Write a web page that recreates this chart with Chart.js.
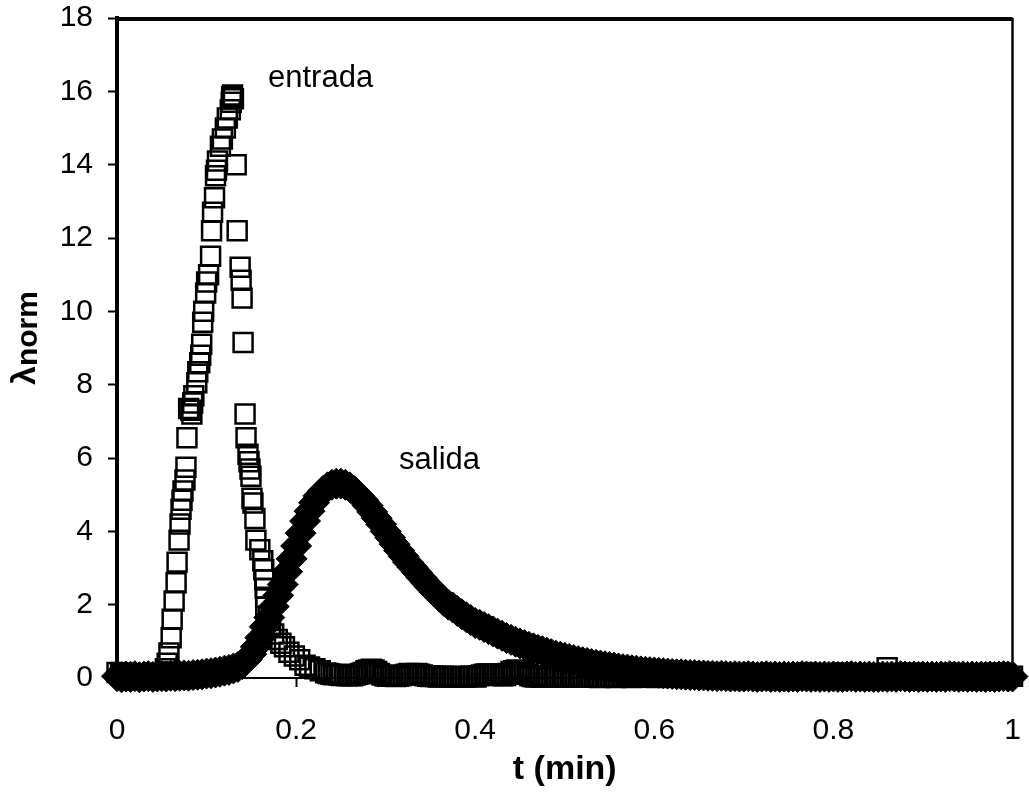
<!DOCTYPE html>
<html>
<head>
<meta charset="utf-8">
<script src="https://cdn.jsdelivr.net/npm/chart.js@4.4.1/dist/chart.umd.min.js"></script>
<style>
  html, body { margin: 0; padding: 0; background: #fff; }
  #wrap { width: 1029px; height: 800px; }
</style>
</head>
<body>
<div id="wrap"><canvas id="chart"></canvas></div>
<script>
// entrada (squares) - time in min, normalised signal
const entradaT = [
  0, 0.004, 0.008, 0.012, 0.016, 0.02, 0.024, 0.028, 0.032, 0.036,
  0.04, 0.044, 0.048, 0.051,
  // rise
  0.054, 0.056, 0.058, 0.0605, 0.0616, 0.0638, 0.066, 0.0671, 0.0693, 0.0704,
  0.0715, 0.0726, 0.0737, 0.0759, 0.077, 0.0781, 0.08, 0.0825, 0.0836, 0.0845,
  0.0858, 0.0891, 0.0902, 0.0924, 0.0935, 0.0946, 0.0957, 0.0968, 0.099, 0.1001,
  0.1023, 0.1045, 0.1056, 0.1067, 0.1089, 0.11, 0.1111, 0.1122, 0.1155, 0.1177,
  0.121, 0.1232, 0.1265, 0.1276, 0.128, 0.129, 0.13,
  // fall
  0.1331, 0.1342, 0.1375, 0.1386, 0.1397, 0.1408, 0.143, 0.1441, 0.1463, 0.1474,
  0.1485, 0.1496, 0.1507, 0.1518, 0.154, 0.1551, 0.1595, 0.1628, 0.1639, 0.165,
  0.1655, 0.166, 0.1661,
  // tail
  0.169, 0.1716, 0.175, 0.179, 0.183, 0.187, 0.192, 0.198, 0.204, 0.21,
  0.215, 0.221, 0.227,
  // baseline
  0.233, 0.236, 0.239, 0.242, 0.245, 0.248, 0.251, 0.254, 0.257, 0.26,
  0.263, 0.266, 0.269, 0.272, 0.275, 0.278, 0.281, 0.284, 0.287, 0.29,
  0.293, 0.296, 0.299, 0.302, 0.305, 0.308, 0.311, 0.314, 0.317, 0.32,
  0.323, 0.326, 0.329, 0.332, 0.335, 0.338, 0.341, 0.344, 0.347, 0.35,
  0.353, 0.356, 0.359, 0.362, 0.365, 0.368, 0.371, 0.374, 0.377, 0.38,
  0.383, 0.386, 0.389, 0.392, 0.395, 0.398, 0.401, 0.404, 0.407, 0.41,
  0.413, 0.416, 0.419, 0.422, 0.425, 0.428, 0.431, 0.434, 0.437, 0.44,
  0.443, 0.446, 0.449, 0.452, 0.455, 0.458, 0.461, 0.464, 0.467, 0.47,
  0.473, 0.476, 0.479, 0.482, 0.485, 0.488, 0.491, 0.494, 0.497, 0.5,
  0.503, 0.506, 0.509, 0.512, 0.515, 0.518, 0.521, 0.524, 0.527, 0.53,
  0.533, 0.536, 0.539, 0.542, 0.545, 0.548, 0.551, 0.554, 0.557, 0.56,
  0.563, 0.566, 0.569, 0.572, 0.575, 0.578, 0.581, 0.584, 0.587, 0.59,
  0.593, 0.596, 0.599, 0.602, 0.605, 0.608, 0.611, 0.614, 0.617, 0.62,
  0.63, 0.64, 0.65, 0.66, 0.67, 0.68, 0.69, 0.7, 0.71, 0.72,
  0.73, 0.74, 0.75, 0.76, 0.77, 0.78, 0.79, 0.8, 0.81, 0.82,
  0.83, 0.84, 0.85, 0.86, 0.87, 0.88, 0.89, 0.9, 0.91, 0.92,
  0.93, 0.94, 0.95, 0.96, 0.97, 0.98, 0.99, 1
];
const entradaY = [
  0.15, 0.12, 0.14, 0.08, 0.05, 0.06, 0.04, 0.07, 0.03, 0.05,
  0.04, 0.06, 0.05, 0.12,
  0.25, 0.4, 0.68, 1.1, 1.6, 2.1, 2.6, 3.16, 3.76, 4.2,
  4.6, 4.85, 5.1, 5.4, 5.75, 6.55, 7.35, 7.3, 7.2, 7.5,
  7.7, 8.05, 8.35, 8.6, 8.8, 9.1, 9.7, 10.0, 10.5, 10.8,
  11.0, 11.5, 12.2, 12.7, 13.1, 13.7, 13.85, 14.1, 14.5, 14.7,
  15.0, 15.27, 15.5, 15.7, 15.85, 15.9, 15.8,
  14.0, 12.2, 11.2, 10.85, 10.36, 9.15, 7.2, 6.55, 6.1, 5.9,
  5.7, 5.5, 4.9, 4.77, 4.35, 3.76, 3.5, 3.2, 2.95, 2.67,
  2.45, 2.2, 1.94,
  1.65, 1.4, 1.2, 1.05, 0.95, 0.85, 0.7, 0.6, 0.5, 0.35,
  0.3, 0.25, 0.2,
  0.14, 0.12, 0.1, 0.09, 0.1, 0.08, 0.07, 0.08, 0.06, 0.07,
  0.06, 0.08, 0.1, 0.12, 0.15, 0.2, 0.22, 0.24, 0.22, 0.18,
  0.12, 0.08, 0.06, 0.05, 0.07, 0.06, 0.04, 0.05, 0.06, 0.08,
  0.1, 0.12, 0.1, 0.11, 0.12, 0.1, 0.08, 0.06, 0.05, 0.04,
  0.05, 0.04, 0.03, 0.04, 0.05, 0.04, 0.03, 0.04, 0.03, 0.02,
  0.03, 0.04, 0.03, 0.04, 0.05, 0.04, 0.03, 0.06, 0.08, 0.1,
  0.11, 0.1, 0.09, 0.1, 0.08, 0.07, 0.06, 0.07, 0.12, 0.18,
  0.2, 0.22, 0.2, 0.18, 0.15, 0.1, 0.06, 0.04, 0.03, 0.04,
  0.03, 0.02, 0.03, 0.04, 0.03, 0.02, 0.03, 0.02, 0.03, 0.04,
  0.03, 0.02, 0.03, 0.02, 0.03, 0.04, 0.03, 0.02, 0.03, 0.02,
  0.03, 0.02, 0.01, 0.02, 0.03, 0.02, 0.03, 0.02, 0.01, 0.02,
  0.03, 0.02, 0.03, 0.02, 0.01, 0.02, 0.03, 0.02, 0.03, 0.02,
  0.02, 0.03, 0.02, 0.01, 0.02, 0.03, 0.02, 0.03, 0.02, 0.03,
  0.02, 0.03, 0.02, 0.04, 0.02, 0.01, 0.03, 0.02, 0.03, 0.02,
  0.04, 0.02, 0.03, 0.05, 0.14, 0.04, 0.03, 0.05, 0.14, 0.04,
  0.02, 0.03, 0.05, 0.28, 0.04, 0.03, 0.14, 0.05, 0.03, 0.04,
  0.12, 0.04, 0.03, 0.02, 0.04, 0.14, 0.04, 0.05
];

// salida (diamonds)
const salidaT = [
  0, 0.005, 0.01, 0.015, 0.02, 0.025, 0.03, 0.035, 0.04, 0.045,
  0.05, 0.055, 0.06, 0.065, 0.07, 0.075, 0.08, 0.085, 0.09, 0.095,
  0.1, 0.105, 0.11, 0.115, 0.12, 0.125, 0.13, 0.135, 0.14, 0.145,
  0.15, 0.155, 0.16, 0.165, 0.17, 0.175, 0.18, 0.185, 0.19, 0.195,
  0.2, 0.205, 0.21, 0.215, 0.22, 0.225, 0.23, 0.235, 0.24, 0.245,
  0.25, 0.255, 0.26, 0.265, 0.27, 0.275, 0.28, 0.285, 0.29, 0.295,
  0.3, 0.305, 0.31, 0.315, 0.32, 0.325, 0.33, 0.335, 0.34, 0.345,
  0.35, 0.355, 0.36, 0.365, 0.37, 0.375, 0.38, 0.385, 0.39, 0.395,
  0.4, 0.405, 0.41, 0.415, 0.42, 0.425, 0.43, 0.435, 0.44, 0.445,
  0.45, 0.455, 0.46, 0.465, 0.47, 0.475, 0.48, 0.485, 0.49, 0.495,
  0.5, 0.505, 0.51, 0.515, 0.52, 0.525, 0.53, 0.535, 0.54, 0.545,
  0.55, 0.555, 0.56, 0.565, 0.57, 0.575, 0.58, 0.585, 0.59, 0.595,
  0.6, 0.605, 0.61, 0.615, 0.62, 0.625, 0.63, 0.635, 0.64, 0.645,
  0.65, 0.655, 0.66, 0.665, 0.67, 0.675, 0.68, 0.685, 0.69, 0.695,
  0.7, 0.705, 0.71, 0.715, 0.72, 0.725, 0.73, 0.735, 0.74, 0.745,
  0.75, 0.755, 0.76, 0.765, 0.77, 0.775, 0.78, 0.785, 0.79, 0.795,
  0.8, 0.805, 0.81, 0.815, 0.82, 0.825, 0.83, 0.835, 0.84, 0.845,
  0.85, 0.855, 0.86, 0.865, 0.87, 0.875, 0.88, 0.885, 0.89, 0.895,
  0.9, 0.905, 0.91, 0.915, 0.92, 0.925, 0.93, 0.935, 0.94, 0.945,
  0.95, 0.955, 0.96, 0.965, 0.97, 0.975, 0.98, 0.985, 0.99, 0.995,
  1
];
const salidaY = [
  0.05, 0.02, 0.04, 0.03, 0.05, 0.02, 0.04, 0.05, 0.03, 0.04,
  0.05, 0.04, 0.06, 0.05, 0.06, 0.07, 0.06, 0.08, 0.09, 0.1,
  0.12, 0.13, 0.15, 0.17, 0.2, 0.22, 0.26, 0.3, 0.38, 0.5,
  0.65, 0.85, 1.1, 1.4, 1.65, 1.95, 2.25, 2.55, 2.9, 3.25,
  3.6, 3.95, 4.28, 4.55, 4.78, 4.97, 5.1, 5.2, 5.27, 5.3,
  5.3, 5.27, 5.2, 5.1, 4.98, 4.85, 4.7, 4.53, 4.36, 4.19,
  4.0, 3.83, 3.65, 3.48, 3.32, 3.16, 3.02, 2.88, 2.74, 2.6,
  2.47, 2.34, 2.22, 2.1, 2.0, 1.92, 1.83, 1.74, 1.66, 1.58,
  1.5, 1.45, 1.39, 1.33, 1.27, 1.21, 1.15, 1.09, 1.04, 0.99,
  0.94, 0.9, 0.85, 0.81, 0.77, 0.73, 0.69, 0.65, 0.61, 0.58,
  0.55, 0.52, 0.49, 0.46, 0.43, 0.41, 0.38, 0.36, 0.34, 0.32,
  0.3, 0.28, 0.26, 0.24, 0.23, 0.21, 0.2, 0.18, 0.17, 0.16,
  0.15, 0.14, 0.13, 0.12, 0.11, 0.1, 0.1, 0.09, 0.08, 0.08,
  0.07, 0.07, 0.06, 0.06, 0.05, 0.06, 0.05, 0.04, 0.05, 0.04,
  0.04, 0.05, 0.04, 0.03, 0.04, 0.05, 0.03, 0.04, 0.03, 0.04,
  0.03, 0.04, 0.03, 0.05, 0.04, 0.03, 0.04, 0.03, 0.04, 0.03,
  0.04, 0.03, 0.03, 0.04, 0.05, 0.03, 0.04, 0.03, 0.04, 0.03,
  0.03, 0.04, 0.03, 0.04, 0.03, 0.05, 0.04, 0.03, 0.04, 0.03,
  0.04, 0.03, 0.04, 0.03, 0.04, 0.03, 0.05, 0.04, 0.03, 0.04,
  0.03, 0.04, 0.03, 0.04, 0.03, 0.04, 0.03, 0.04, 0.05, 0.04,
  0.04
];

const seriesNames = ["entrada", "salida"];
const xTickLabels = ["0", "0.2", "0.4", "0.6", "0.8", "1"];
const yTickLabels = ["0", "2", "4", "6", "8", "10", "12", "14", "16", "18"];
const xTitle = "t (min)";
const yTitle = ["λ", "norm"];

const FONT = "'Liberation Sans', Arial, sans-serif";

// frame, in-plot labels and axis titles
const decor = {
  id: "decor",
  afterDraw(chart) {
    const { ctx, chartArea: a } = chart;
    const xs = chart.scales.x;
    const ys = chart.scales.y;
    ctx.save();
    ctx.strokeStyle = "#000";
    ctx.lineWidth = 4;
    ctx.beginPath();
    ctx.moveTo(a.left - 2, a.top + 1);
    ctx.lineTo(a.right, a.top + 1);
    ctx.stroke();
    ctx.lineWidth = 2.5;
    ctx.beginPath();
    ctx.moveTo(a.right, a.top);
    ctx.lineTo(a.right, a.bottom);
    ctx.stroke();

    ctx.fillStyle = "#000";
    ctx.font = "31px " + FONT;
    ctx.textAlign = "left";
    ctx.textBaseline = "middle";
    ctx.fillText(seriesNames[0], xs.getPixelForValue(0.1686), ys.getPixelForValue(16.36));
    ctx.fillText(seriesNames[1], xs.getPixelForValue(0.315), ys.getPixelForValue(5.94));

    ctx.font = "bold 34px " + FONT;
    ctx.textAlign = "center";
    ctx.fillText(xTitle, (a.left + a.right) / 2, 770);

    ctx.translate(35, 385);
    ctx.rotate(-Math.PI / 2);
    ctx.textAlign = "left";
    ctx.textBaseline = "alphabetic";
    ctx.fillText(yTitle[0], 0, 0);
    const w = ctx.measureText(yTitle[0]).width;
    ctx.font = "bold 30px " + FONT;
    ctx.fillText(yTitle[1], w, 2);
    ctx.restore();
  }
};

const ctx = document.getElementById("chart").getContext("2d");
new Chart(ctx, {
  type: "scatter",
  data: {
    datasets: [
      {
        label: seriesNames[0],
        data: entradaT.map((t, i) => ({ x: t, y: entradaY[i] })),
        pointStyle: "rect",
        pointRadius: 13.4,
        borderWidth: 2.5,
        borderColor: "#000",
        backgroundColor: "rgba(0,0,0,0)",
        clip: false,
        order: 2,
      },
      {
        label: seriesNames[1],
        data: salidaT.map((t, i) => ({ x: t, y: salidaY[i] })),
        pointStyle: "rectRot",
        pointRadius: 15.5,
        borderWidth: 1,
        borderColor: "#000",
        backgroundColor: "#000",
        clip: false,
        order: 1,
      },
    ],
  },
  options: {
    responsive: true,
    maintainAspectRatio: false,
    devicePixelRatio: 1,
    animation: false,
    layout: { padding: { top: 18, right: 4.5, left: 0, bottom: 0 } },
    plugins: { legend: { display: false }, tooltip: { enabled: false } },
    scales: {
      x: {
        type: "linear",
        min: 0,
        max: 1,
        afterBuildTicks: (s) => {
          s.ticks = xTickLabels.map((l) => ({ value: parseFloat(l) }));
        },
        afterFit: (s) => {
          s.height = 122;
          s.paddingLeft = 0;
          s.paddingRight = 0;
        },
        ticks: {
          color: "#000",
          font: { family: FONT, size: 30 },
          padding: 26,
          maxRotation: 0,
          callback: (v, i) => xTickLabels[i],
        },
        grid: { drawOnChartArea: false, drawTicks: true, tickLength: 9, tickColor: "#000", tickWidth: 2 },
        border: { display: true, color: "#000", width: 2 },
      },
      y: {
        type: "linear",
        min: 0,
        max: 18,
        afterBuildTicks: (s) => {
          s.ticks = yTickLabels.map((l) => ({ value: parseFloat(l) }));
        },
        afterFit: (s) => {
          s.width = 117;
          s.paddingTop = 0;
          s.paddingBottom = 0;
        },
        ticks: {
          color: "#000",
          font: { family: FONT, size: 30 },
          padding: 15,
          callback: (v, i) => yTickLabels[i],
        },
        grid: { drawOnChartArea: false, drawTicks: true, tickLength: 9, tickColor: "#000", tickWidth: 2 },
        border: { display: true, color: "#000", width: 4 },
      },
    },
  },
  plugins: [decor],
});
</script>
</body>
</html>
